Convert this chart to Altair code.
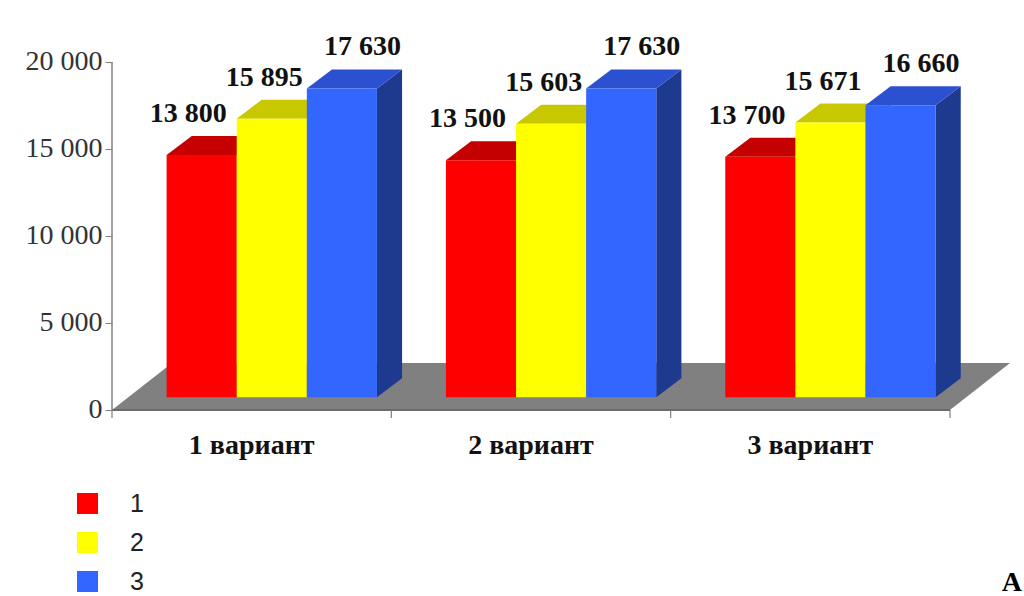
import altair as alt
import pandas as pd

# ---- data ----
CATEGORIES = ["1 вариант", "2 вариант", "3 вариант"]
SERIES = ["1", "2", "3"]
SERIES_1 = [13800, 13500, 13700]
SERIES_2 = [15895, 15603, 15671]
SERIES_3 = [17630, 17630, 16660]
Y_TICKS = [0, 5000, 10000, 15000, 20000]
FIG_LETTER = "А"

# ---- style (3-D look) ----
FRONT = ["#FF0000", "#FFFF00", "#3366FF"]
TOP = ["#C40000", "#C8C800", "#2B50D0"]
SIDE = ["#9A0000", "#9A9A00", "#1E3A8E"]
FLOOR_COLOR = "#808080"
BAR_W = 0.251        # bar width in category units
GROUP_SHIFT = 0.072  # bars sit a little back on the floor
BASE = 850           # bars start a little above the floor front edge
DEPTH_X = 0.09       # bar depth (category units)
DEPTH_Y = 1090       # bar depth (value units)
FLOOR_DX = 0.215
FLOOR_DY = 2700
LABEL_DX = [-26, -20, 8]   # data label placement per series (px)
SERIF = "Liberation Serif"
SANS = "Liberation Sans"

values = [SERIES_1, SERIES_2, SERIES_3]
n = len(CATEGORIES)

fronts, tops, sides = [], [], []
for i in range(n):
    for j, s in enumerate(SERIES):
        v = values[j][i]
        xl = i + GROUP_SHIFT - 1.5 * BAR_W + j * BAR_W
        xr = xl + BAR_W
        b = BASE - 120
        t = BASE + v
        fronts.append(dict(series=s, x=xl, x2=xr, y=b, y2=t,
                           lx=(xl + xr) / 2 + DEPTH_X / 2, ly=t + DEPTH_Y,
                           label=f"{v:,}".replace(",", " ")))
        fid = f"{i}-{j}"
        for px, py, py2 in [(xl, t, t), (xl + DEPTH_X, t, t + DEPTH_Y),
                            (xr, t, t + DEPTH_Y), (xr + DEPTH_X, t + DEPTH_Y, t + DEPTH_Y)]:
            tops.append(dict(id=fid, x=px, y=py, y2=py2, c=TOP[j]))
        for px, py, py2 in [(xr, b, t), (xr + DEPTH_X, b + DEPTH_Y, t + DEPTH_Y)]:
            sides.append(dict(id=fid, x=px, y=py, y2=py2, c=SIDE[j]))

fronts = pd.DataFrame(fronts)
tops = pd.DataFrame(tops)
sides = pd.DataFrame(sides)

left, right = -0.5, n - 0.5
floor = pd.DataFrame([
    dict(x=left, y=0, y2=0),
    dict(x=left + FLOOR_DX, y=0, y2=FLOOR_DY),
    dict(x=right, y=0, y2=FLOOR_DY),
    dict(x=right + FLOOR_DX, y=FLOOR_DY, y2=FLOOR_DY),
])
bounds = pd.DataFrame({"x": [k - 0.5 for k in range(n + 1)]})
cats = pd.DataFrame({"x": list(range(n)), "cat": CATEGORIES})
yline = pd.DataFrame({"x": [left], "y": [Y_TICKS[0]], "y2": [Y_TICKS[-1]]})
front_edge = pd.DataFrame({"x": [left], "x2": [right], "y": [0]})

# scales mapping the page: plot area begins right at the value axis
xscale = alt.Scale(domain=[-0.5, 2.765], nice=False, zero=False)
yscale = alt.Scale(domain=[-10690, 23563], nice=False, zero=False)
yaxis = alt.Axis(values=Y_TICKS, title=None, grid=False, domain=False,
                 labelExpr="replace(format(datum.value, ','), ',', ' ')",
                 labelFont=SERIF, labelFontSize=28, labelColor="#333333",
                 tickSize=7, tickColor="#808080", labelPadding=3)

X = lambda f: alt.X(f, scale=xscale, axis=None)
Y = lambda f: alt.Y(f, scale=yscale, axis=yaxis, title=None)

floor_layer = alt.Chart(floor).mark_area(color=FLOOR_COLOR, orient="vertical").encode(
    x=X("x:Q"), y=Y("y:Q"), y2="y2:Q")
edge_layer = alt.Chart(front_edge).mark_rule(color="#6a6a6a", strokeWidth=2).encode(
    x=X("x:Q"), x2="x2:Q", y=Y("y:Q"))
tick_layer = alt.Chart(bounds).mark_rule(color="#808080", strokeWidth=1.2).encode(
    x=X("x:Q"), y=Y("y0:Q"), y2="y1:Q"
).transform_calculate(y0="0", y1="-460")
yline_layer = alt.Chart(yline).mark_rule(color="#808080", strokeWidth=1.5).encode(
    x=X("x:Q"), y=Y("y:Q"), y2="y2:Q")
side_layer = alt.Chart(sides).mark_area(orient="vertical").encode(
    x=X("x:Q"), y=Y("y:Q"), y2="y2:Q", detail="id:N",
    color=alt.Color("c:N", scale=None))
top_layer = alt.Chart(tops).mark_area(orient="vertical").encode(
    x=X("x:Q"), y=Y("y:Q"), y2="y2:Q", detail="id:N",
    color=alt.Color("c:N", scale=None))
front_layer = alt.Chart(fronts).mark_rect().encode(
    x=X("x:Q"), x2="x2:Q",
    y=Y("y:Q"), y2="y2:Q",
    color=alt.Color("series:N", scale=alt.Scale(domain=SERIES, range=FRONT),
                    legend=alt.Legend(orient="none", legendX=-37, legendY=491,
                                      title=None, symbolType="square",
                                      symbolSize=441, symbolStrokeWidth=0,
                                      symbolOpacity=1,
                                      labelFont=SANS, labelFontSize=25,
                                      labelColor="#222222", labelOffset=30,
                                      rowPadding=13, padding=0)))
label_layers = [
    alt.Chart(fronts).transform_filter(alt.datum.series == s).mark_text(
        font=SERIF, fontSize=28, fontWeight="bold", color="#111111",
        baseline="alphabetic", dx=LABEL_DX[j], dy=-14
    ).encode(x=X("lx:Q"), y=Y("ly:Q"), text="label:N")
    for j, s in enumerate(SERIES)
]
cat_layer = alt.Chart(cats).mark_text(
    font=SERIF, fontSize=28, fontWeight="bold", color="#111111",
    baseline="middle", dy=36
).encode(x=X("x:Q"), y=Y("y0:Q"), text="cat:N"
).transform_calculate(y0="0")

chart = alt.layer(
    floor_layer, edge_layer, tick_layer, yline_layer,
    side_layer, top_layer, front_layer, *label_layers, cat_layer
).properties(
    width=912, height=596,
    padding={"left": 112, "top": 0, "right": 0, "bottom": 0},
    autosize=alt.AutoSizeParams(type="none"),
    title=alt.TitleParams(FIG_LETTER, orient="bottom", anchor="end", font=SERIF,
                          fontSize=28, fontWeight="bold", color="#000000",
                          offset=-27, dx=-2),
).configure(background="white").configure_view(strokeWidth=0)

chart.save("out.html", embed_options={"renderer": "svg", "actions": False})
